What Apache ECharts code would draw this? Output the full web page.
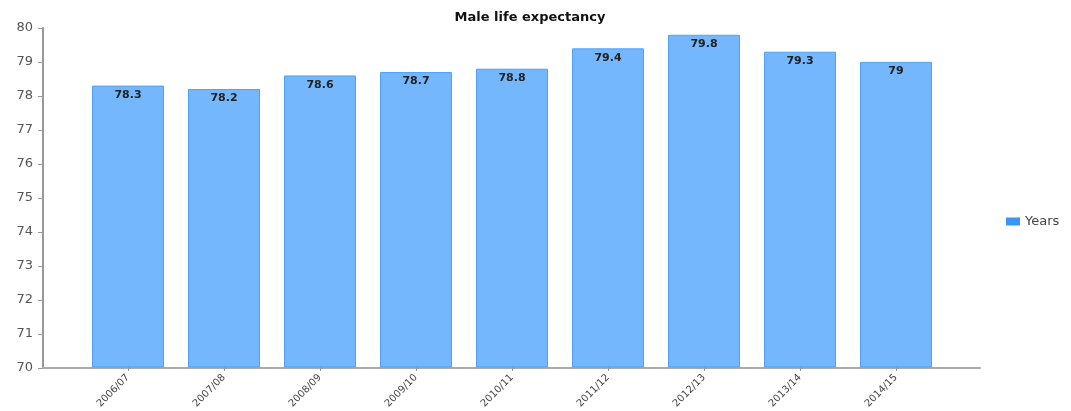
<!DOCTYPE html>
<html>
<head>
<meta charset="utf-8">
<script src="https://cdn.jsdelivr.net/npm/echarts@6/dist/echarts.min.js"></script>
<style>
  html, body { margin: 0; padding: 0; background: #fff; }
  #chart { width: 1071px; height: 411px; }
</style>
</head>
<body>
<div id="chart"></div>
<script>
// data
const categories = ['2006/07', '2007/08', '2008/09', '2009/10', '2010/11', '2011/12', '2012/13', '2013/14', '2014/15'];
const years = [78.3, 78.2, 78.6, 78.7, 78.8, 79.4, 79.8, 79.3, 79];
const yMin = 70;
const yMax = 80;

const chart = echarts.init(document.getElementById('chart'));
const option = {
  animation: false,
  title: {
    text: 'Male life expectancy',
    left: 525,
    textAlign: 'center',
    top: 6,
    textStyle: { fontFamily: 'DejaVu Sans', fontSize: 13, fontWeight: 'bold', color: '#111' }
  },
  legend: {
    data: ['Years'],
    orient: 'vertical',
    left: 1001,
    top: 210,
    itemWidth: 14,
    itemHeight: 8,
    itemGap: 6,
    itemStyle: { color: '#3b95f7', borderWidth: 0 },
    textStyle: { fontFamily: 'DejaVu Sans', fontSize: 13, color: '#444' },
    icon: 'rect'
  },
  // grid 0: axis frame only, grid 1: the bars
  grid: [
    { left: 43, right: 91, top: 28, bottom: 43 },
    { left: 80, right: 127, top: 28, bottom: 43 }
  ],
  xAxis: [
    {
      gridIndex: 0,
      type: 'value',
      min: 0, max: 1,
      axisLine: { show: true, lineStyle: { color: '#aaa', width: 2 } },
      axisTick: { show: false },
      axisLabel: { show: false },
      splitLine: { show: false }
    },
    {
      gridIndex: 1,
      type: 'category',
      data: categories,
      axisLine: { show: false },
      axisTick: { show: true, alignWithLabel: true, length: 4, lineStyle: { color: '#999' } },
      axisLabel: {
        rotate: 45,
        interval: 0,
        fontFamily: 'DejaVu Sans',
        fontSize: 10,
        color: '#444',
        margin: 9
      }
    }
  ],
  yAxis: [
    {
      gridIndex: 0,
      type: 'value',
      min: yMin, max: yMax, interval: 1,
      axisLine: { show: true, lineStyle: { color: '#999', width: 2 } },
      axisTick: { show: true, length: 5, lineStyle: { color: '#999' } },
      axisLabel: { fontFamily: 'DejaVu Sans', fontSize: 13, color: '#555', margin: 10 },
      splitLine: { show: false }
    },
    {
      gridIndex: 1,
      type: 'value',
      min: yMin, max: yMax, interval: 1,
      show: false
    }
  ],
  series: [
    {
      name: 'Years',
      type: 'bar',
      xAxisIndex: 1,
      yAxisIndex: 1,
      data: years,
      barWidth: 72,
      itemStyle: { color: '#74b7fd', borderColor: '#4da3f7', borderWidth: 1 },
      label: {
        show: true,
        position: 'insideTop',
        distance: 4,
        fontFamily: 'DejaVu Sans',
        fontSize: 11,
        fontWeight: 'bold',
        color: '#222'
      }
    }
  ]
};
chart.setOption(option);
</script>
</body>
</html>
